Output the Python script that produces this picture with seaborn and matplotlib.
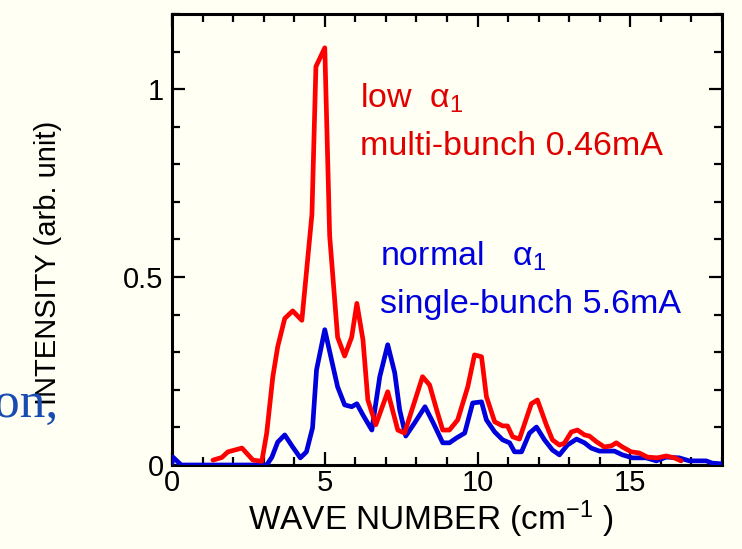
import matplotlib
matplotlib.use("Agg")
import matplotlib.pyplot as plt
import seaborn as sns
import pandas as pd
from matplotlib.ticker import MultipleLocator

# ---- data ----
red_x = [1.34, 1.63, 1.83, 2.29, 2.65, 2.94, 3.10, 3.30, 3.46, 3.69, 3.95, 4.25, 4.58, 4.71,
         5.00, 5.16, 5.42, 5.65, 5.88, 6.05, 6.25, 6.41, 6.67, 7.06, 7.39, 7.61, 8.20, 8.43,
         8.66, 8.86, 9.08, 9.35, 9.68, 9.90, 10.13, 10.29, 10.56, 10.82, 10.98, 11.15, 11.37,
         11.76, 11.96, 12.25, 12.45, 12.68, 12.84, 13.07, 13.27, 13.50, 13.66, 13.89, 14.15,
         14.38, 14.54, 14.74, 15.03, 15.29, 15.56, 15.88, 16.17, 16.44, 16.66]
red_y = [0.013, 0.020, 0.035, 0.045, 0.013, 0.010, 0.085, 0.235, 0.315, 0.390, 0.410, 0.385,
         0.667, 1.060, 1.110, 0.610, 0.340, 0.290, 0.340, 0.430, 0.333, 0.173, 0.107, 0.195,
         0.093, 0.085, 0.235, 0.213, 0.147, 0.093, 0.093, 0.120, 0.208, 0.293, 0.288, 0.182,
         0.115, 0.104, 0.104, 0.075, 0.069, 0.163, 0.173, 0.107, 0.067, 0.053, 0.058, 0.088,
         0.093, 0.080, 0.077, 0.062, 0.048, 0.051, 0.059, 0.048, 0.035, 0.032, 0.021, 0.019,
         0.024, 0.019, 0.011]

blue_x = [0.00, 0.03, 0.30, 1.00, 2.00, 3.10, 3.27, 3.46, 3.69, 3.95, 4.20, 4.40, 4.60, 4.73,
          5.00, 5.22, 5.42, 5.65, 5.88, 6.05, 6.25, 6.54, 6.80, 7.06, 7.29, 7.45, 7.65, 7.94,
          8.28, 8.55, 8.86, 9.08, 9.31, 9.58, 9.84, 10.13, 10.29, 10.56, 10.82, 11.05, 11.21,
          11.44, 11.70, 11.93, 12.19, 12.45, 12.68, 12.94, 13.24, 13.50, 13.72, 13.99, 14.48,
          14.74, 15.07, 15.52, 15.85, 16.17, 16.60, 16.93, 17.48, 17.68, 18.00]
blue_y = [0.005, 0.021, 0.000, 0.000, 0.000, 0.000, 0.021, 0.061, 0.080, 0.048, 0.019, 0.035,
          0.099, 0.253, 0.360, 0.280, 0.208, 0.160, 0.155, 0.163, 0.133, 0.093, 0.235, 0.320,
          0.245, 0.147, 0.077, 0.112, 0.155, 0.112, 0.059, 0.059, 0.072, 0.085, 0.165, 0.168,
          0.120, 0.088, 0.067, 0.059, 0.035, 0.035, 0.085, 0.101, 0.067, 0.040, 0.027, 0.053,
          0.069, 0.059, 0.045, 0.037, 0.037, 0.027, 0.019, 0.019, 0.011, 0.021, 0.019, 0.011,
          0.011, 0.005, 0.003]

x_ticks = [0, 5, 10, 15]
x_tick_labels = ["0", "5", "10", "15"]
y_ticks = [0, 0.5, 1]
y_tick_labels = ["0", "0.5", "1"]

BG = "#FFFFF3"
RED = "#FF0000"
BLUE = "#0000DD"

sns.set_style("ticks")
plt.rcParams["font.family"] = ["Liberation Sans", "DejaVu Sans"]
plt.rcParams["mathtext.fontset"] = "custom"
plt.rcParams["mathtext.rm"] = "Liberation Sans"
plt.rcParams["mathtext.it"] = "Liberation Sans"
plt.rcParams["text.color"] = "black"
plt.rcParams["axes.labelcolor"] = "black"
plt.rcParams["xtick.color"] = "black"
plt.rcParams["ytick.color"] = "black"

fig = plt.figure(figsize=(7.42, 5.49), dpi=100, facecolor=BG)
ax = fig.add_axes([172 / 742, 1 - 465 / 549, 550 / 742, 451 / 549])
ax.set_facecolor(BG)

df_blue = pd.DataFrame({"x": blue_x, "y": blue_y})
df_red = pd.DataFrame({"x": red_x, "y": red_y})
sns.lineplot(data=df_blue, x="x", y="y", ax=ax, color=BLUE, linewidth=3.4,
             estimator=None, sort=False, zorder=3)
sns.lineplot(data=df_red, x="x", y="y", ax=ax, color=RED, linewidth=3.4,
             estimator=None, sort=False, zorder=4)

ax.set_xlim(0, 18)
ax.set_ylim(0, 1.2)
ax.set_xticks(x_ticks)
ax.set_xticklabels(x_tick_labels)
ax.set_yticks(y_ticks)
ax.set_yticklabels(y_tick_labels)
ax.xaxis.set_minor_locator(MultipleLocator(1))
ax.yaxis.set_minor_locator(MultipleLocator(0.1))
ax.tick_params(which="both", direction="in", top=True, right=True, width=1.6,
               color="black", labelcolor="black", labelsize=21)
ax.tick_params(which="major", length=9.5)
ax.tick_params(which="minor", length=6)
ax.tick_params(axis="x", which="major", pad=3)
ax.tick_params(axis="y", which="major", pad=6)
for s in ax.spines.values():
    s.set_linewidth(2.2)
    s.set_color("black")

ax.set_xlabel("WAVE NUMBER (cm$^{-1}$ )", fontsize=24, va="baseline", color="black")
ax.xaxis.set_label_coords((431 - 172) / 550, (465 - 530) / 451)
ax.set_ylabel("")
fig.text(56 / 742, 1 - 263 / 549, "INTENSITY (arb. unit)", rotation=90,
         rotation_mode="anchor", ha="center", va="baseline", fontsize=21, color="black")

# annotations
fig.text(360 / 742, 1 - 108 / 549, "low  \u03b1$_{1}$", color="#E00000", fontsize=24.5,
         va="baseline", ha="left")
fig.text(360 / 742, 1 - 155 / 549, "multi-bunch 0.46mA", color="#E00000", fontsize=24.5,
         va="baseline", ha="left")
fig.text(380 / 742, 1 - 266 / 549, "normal   \u03b1$_{1}$", color="#0000DD", fontsize=24.5,
         va="baseline", ha="left")
fig.text(380 / 742, 1 - 313 / 549, "single-bunch 5.6mA", color="#0000DD", fontsize=24.5,
         va="baseline", ha="left")

# fragment of slide text at the left edge
fig.text(58 / 742, 1 - 417 / 549, "on,", color="#1A4BB0", fontsize=37,
         family=["Liberation Serif", "DejaVu Serif"], va="baseline", ha="right")

fig.savefig("out.png", dpi=100, facecolor=BG)
